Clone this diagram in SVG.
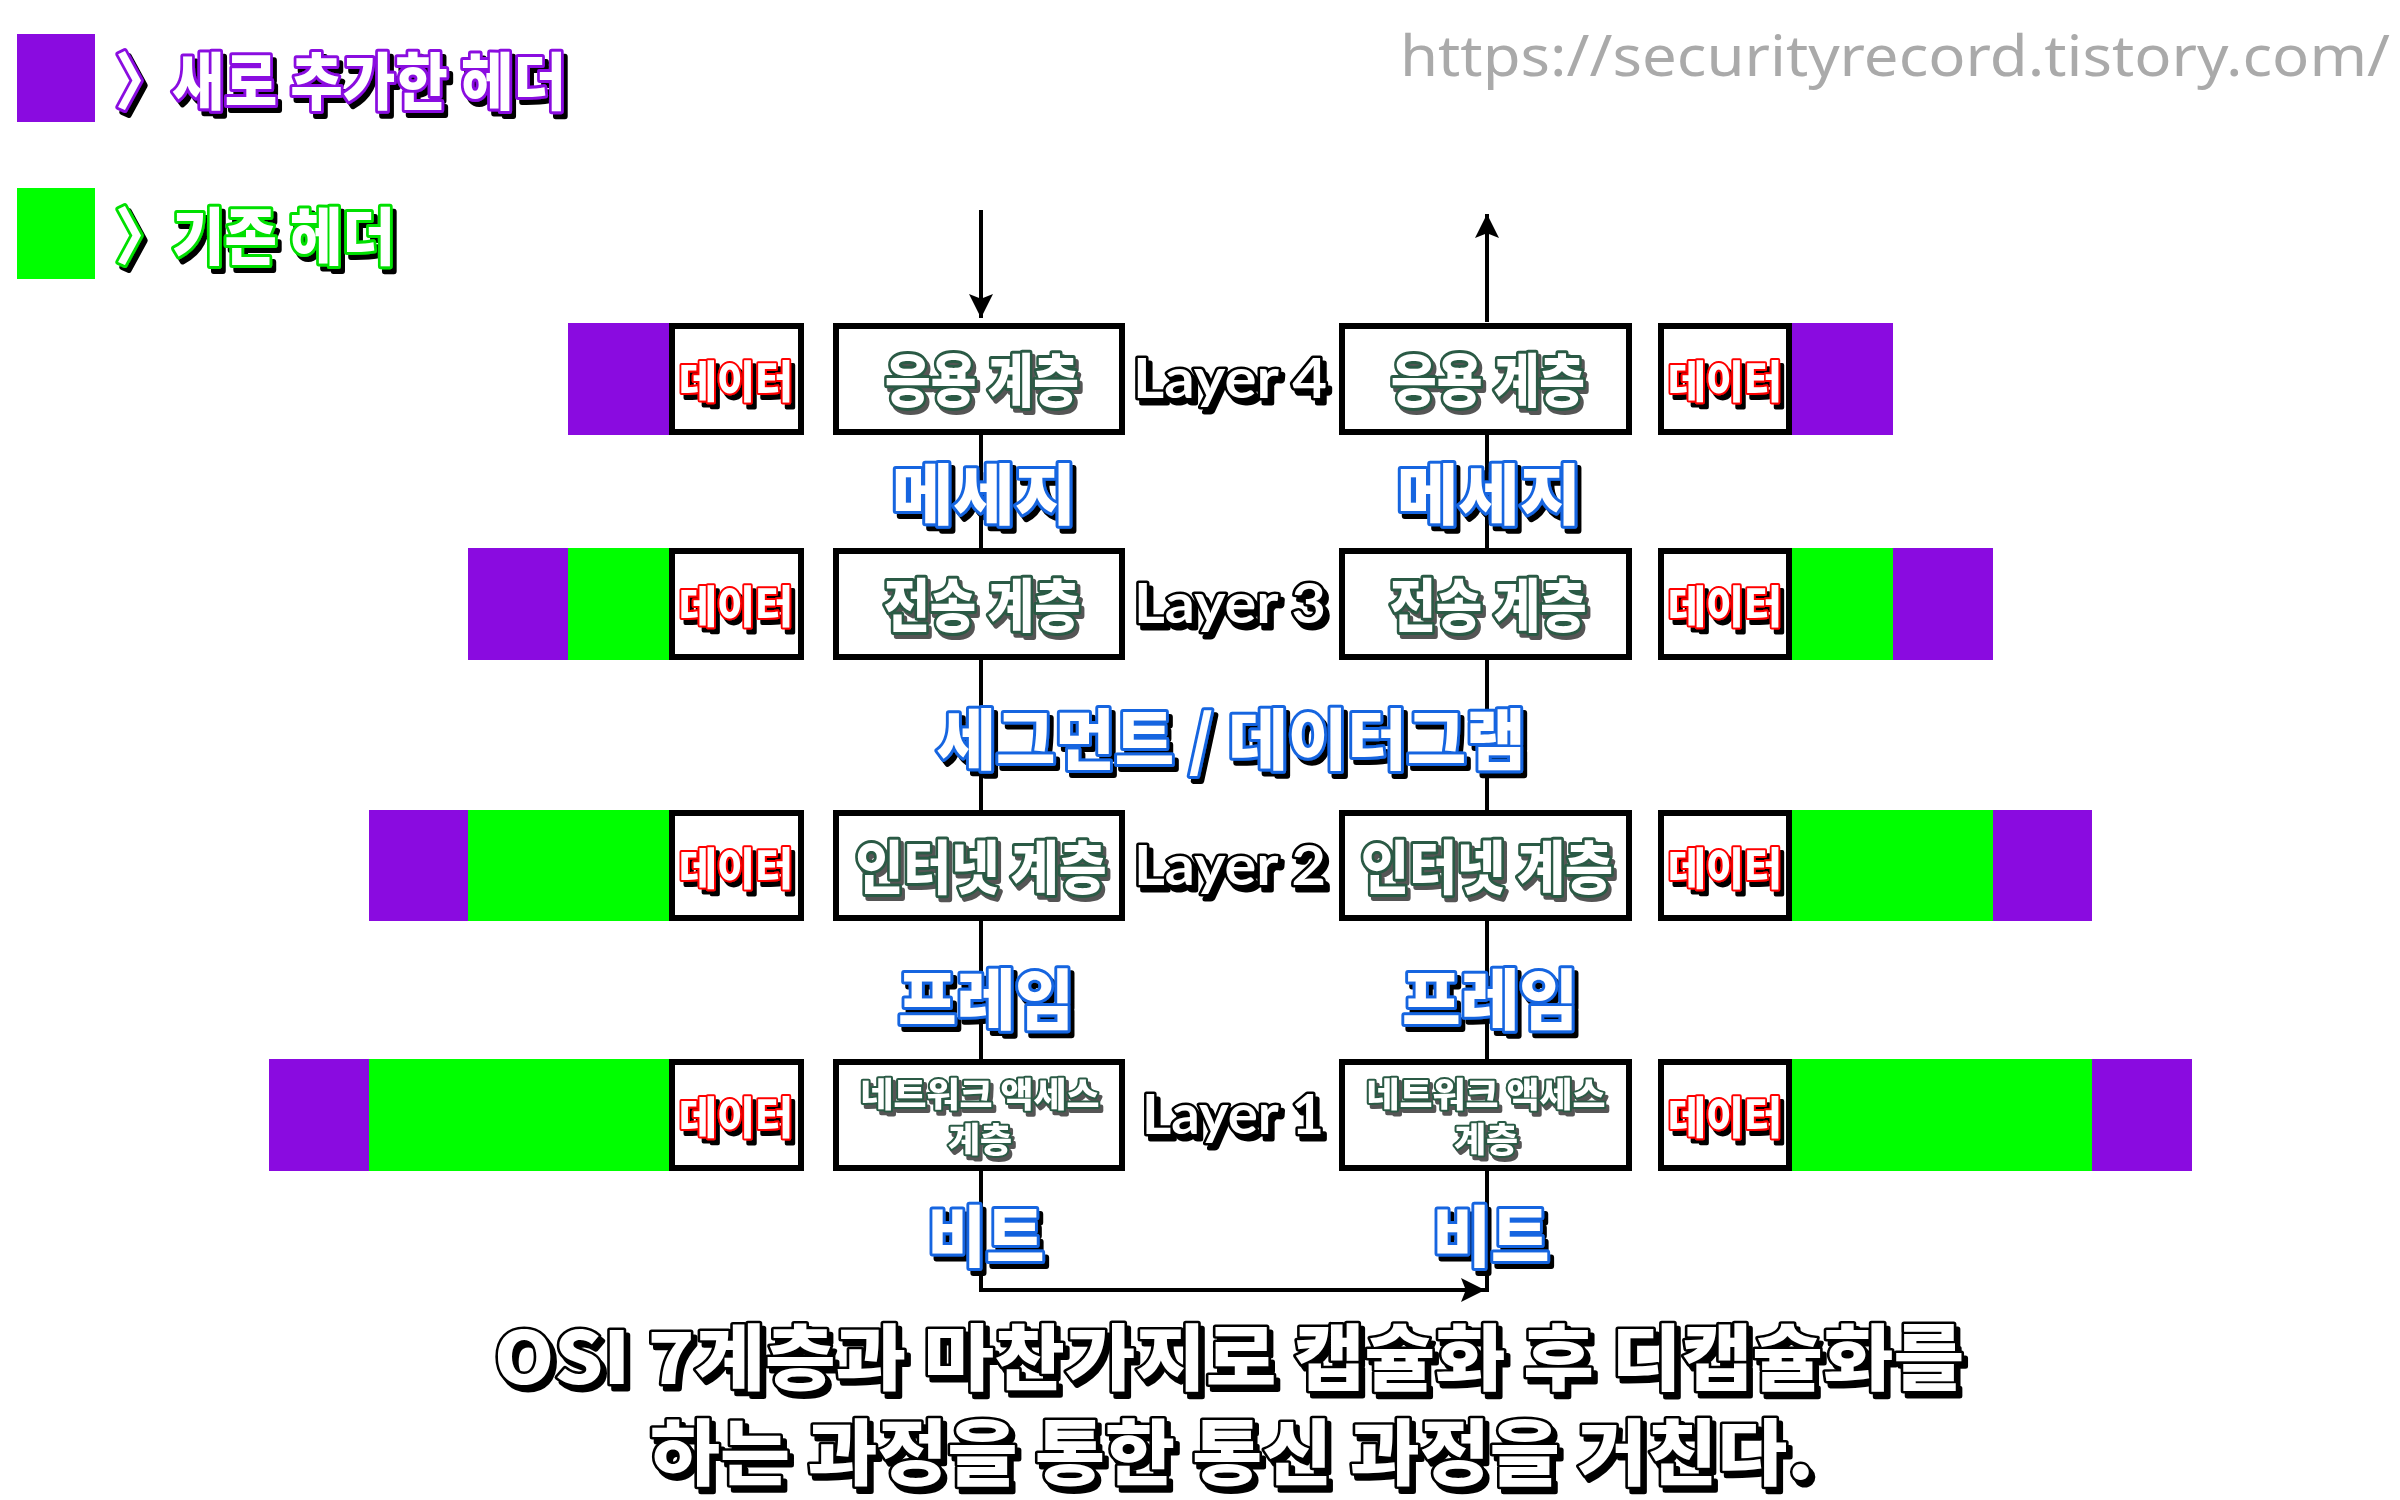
<svg xmlns="http://www.w3.org/2000/svg" width="2400" height="1500" viewBox="0 0 2400 1500">
<style>
.kr{font-family:"Noto Sans CJK KR","Noto Sans",sans-serif;font-weight:900;paint-order:stroke fill;stroke-linejoin:round;fill:#fff;filter:url(#sh);dominant-baseline:central;text-anchor:middle}
.lat{font-family:"Lato","Noto Sans",sans-serif;font-weight:700;paint-order:stroke fill;stroke-linejoin:round;fill:#fff;stroke:#000;stroke-width:5;filter:url(#sh);dominant-baseline:central;text-anchor:middle}
.lay{font-size:58px;stroke:#2a5a44;stroke-width:6;filter:url(#shg)}
.lay4{font-size:34px;stroke:#2a5a44;stroke-width:4;filter:url(#shg)}
.dat{font-size:44px;stroke:#ff0000;stroke-width:4}
.blu{font-size:66px;stroke:#1565e0;stroke-width:6}
.bot{font-size:72px;stroke:#000;stroke-width:5}
.box{fill:#fff;stroke:#000;stroke-width:6}
.pu{fill:#8a0be0}
.gr{fill:#00ff00}
.ln{stroke:#000;stroke-width:4;fill:none}
</style>
<defs>
<filter id="sh" x="-10%" y="-20%" width="130%" height="150%"><feDropShadow dx="4" dy="5" stdDeviation="0" flood-color="#000"/></filter>
<filter id="shg" x="-10%" y="-20%" width="130%" height="150%"><feDropShadow dx="3" dy="4" stdDeviation="0" flood-color="#555"/></filter>
<marker id="ah" viewBox="0 0 10 10" refX="10" refY="5" markerWidth="6" markerHeight="7" markerUnits="strokeWidth" orient="auto"><path d="M0,0 L10,5 L0,10 L2,5 z" fill="#000"/></marker>
</defs>
<rect width="2400" height="1500" fill="#fff"/>

<g id="legend">
<rect class="pu" x="17" y="34" width="78" height="88"/>
<text class="kr" x="115" y="78" font-size="62" stroke="#8a0be0" stroke-width="6" style="text-anchor:start" textLength="451" lengthAdjust="spacingAndGlyphs">〉새로 추가한 헤더</text>
<rect class="gr" x="17" y="188" width="78" height="91"/>
<text class="kr" x="115" y="233" font-size="62" stroke="#00e000" stroke-width="6" style="text-anchor:start" textLength="280" lengthAdjust="spacingAndGlyphs">〉기존 헤더</text>
</g>
<text x="1400" y="76" font-family="Noto Sans, sans-serif" font-size="56" fill="#aaaaaa" textLength="990" lengthAdjust="spacingAndGlyphs">https://securityrecord.tistory.com/</text>

<g id="connectors">
<line class="ln" x1="981" y1="210" x2="981" y2="318" marker-end="url(#ah)"/>
<line class="ln" x1="1487" y1="322" x2="1487" y2="214" marker-end="url(#ah)"/>
<line class="ln" x1="981" y1="435" x2="981" y2="1292"/>
<line class="ln" x1="1487" y1="435" x2="1487" y2="1292"/>
<line class="ln" x1="981" y1="1290" x2="1485" y2="1290" stroke-width="5" marker-end="url(#ah)"/>
</g>

<g id="bands">
<rect class="pu" x="568" y="323" width="101" height="112"/>
<rect class="pu" x="468" y="548" width="100" height="112"/>
<rect class="gr" x="568" y="548" width="101" height="112"/>
<rect class="pu" x="369" y="810" width="99" height="111"/>
<rect class="gr" x="468" y="810" width="201" height="111"/>
<rect class="pu" x="269" y="1059" width="100" height="112"/>
<rect class="gr" x="369" y="1059" width="300" height="112"/>
<rect class="pu" x="1792" y="323" width="101" height="112"/>
<rect class="gr" x="1792" y="548" width="101" height="112"/>
<rect class="pu" x="1893" y="548" width="100" height="112"/>
<rect class="gr" x="1792" y="810" width="201" height="111"/>
<rect class="pu" x="1993" y="810" width="99" height="111"/>
<rect class="gr" x="1792" y="1059" width="300" height="112"/>
<rect class="pu" x="2092" y="1059" width="100" height="112"/>
</g>

<g id="data-l1"><rect class="box" x="672" y="326" width="129" height="106"/><text class="kr dat" x="736" y="379" textLength="114" lengthAdjust="spacingAndGlyphs">데이터</text></g>
<g id="data-l2"><rect class="box" x="672" y="551" width="129" height="106"/><text class="kr dat" x="736" y="604" textLength="114" lengthAdjust="spacingAndGlyphs">데이터</text></g>
<g id="data-l3"><rect class="box" x="672" y="813" width="129" height="105"/><text class="kr dat" x="736" y="866" textLength="114" lengthAdjust="spacingAndGlyphs">데이터</text></g>
<g id="data-l4"><rect class="box" x="672" y="1062" width="129" height="106"/><text class="kr dat" x="736" y="1115" textLength="114" lengthAdjust="spacingAndGlyphs">데이터</text></g>
<g id="data-r1"><rect class="box" x="1661" y="326" width="128" height="106"/><text class="kr dat" x="1725" y="379" textLength="114" lengthAdjust="spacingAndGlyphs">데이터</text></g>
<g id="data-r2"><rect class="box" x="1661" y="551" width="128" height="106"/><text class="kr dat" x="1725" y="604" textLength="114" lengthAdjust="spacingAndGlyphs">데이터</text></g>
<g id="data-r3"><rect class="box" x="1661" y="813" width="128" height="105"/><text class="kr dat" x="1725" y="866" textLength="114" lengthAdjust="spacingAndGlyphs">데이터</text></g>
<g id="data-r4"><rect class="box" x="1661" y="1062" width="128" height="106"/><text class="kr dat" x="1725" y="1115" textLength="114" lengthAdjust="spacingAndGlyphs">데이터</text></g>

<g id="app-l"><rect class="box" x="836" y="326" width="286" height="106"/><text class="kr lay" x="982" y="377" textLength="194" lengthAdjust="spacingAndGlyphs">응용 계층</text></g>
<g id="app-r"><rect class="box" x="1342" y="326" width="287" height="106"/><text class="kr lay" x="1488" y="377" textLength="194" lengthAdjust="spacingAndGlyphs">응용 계층</text></g>
<g id="trans-l"><rect class="box" x="836" y="551" width="286" height="106"/><text class="kr lay" x="982" y="602" textLength="197" lengthAdjust="spacingAndGlyphs">전송 계층</text></g>
<g id="trans-r"><rect class="box" x="1342" y="551" width="287" height="106"/><text class="kr lay" x="1488" y="602" textLength="197" lengthAdjust="spacingAndGlyphs">전송 계층</text></g>
<g id="inet-l"><rect class="box" x="836" y="813" width="286" height="105"/><text class="kr lay" x="981" y="864" textLength="251" lengthAdjust="spacingAndGlyphs">인터넷 계층</text></g>
<g id="inet-r"><rect class="box" x="1342" y="813" width="287" height="105"/><text class="kr lay" x="1487" y="864" textLength="252" lengthAdjust="spacingAndGlyphs">인터넷 계층</text></g>
<g id="net-l"><rect class="box" x="836" y="1062" width="286" height="106"/><text class="kr lay4" x="980" y="1092" textLength="239" lengthAdjust="spacingAndGlyphs">네트워크 액세스</text><text class="kr lay4" x="980" y="1137" textLength="64" lengthAdjust="spacingAndGlyphs">계층</text></g>
<g id="net-r"><rect class="box" x="1342" y="1062" width="287" height="106"/><text class="kr lay4" x="1486" y="1092" textLength="239" lengthAdjust="spacingAndGlyphs">네트워크 액세스</text><text class="kr lay4" x="1486" y="1137" textLength="64" lengthAdjust="spacingAndGlyphs">계층</text></g>

<g id="layer-labels">
<text class="lat" x="1230" y="376" font-size="56" textLength="194" lengthAdjust="spacingAndGlyphs">Layer 4</text>
<text class="lat" x="1230" y="601" font-size="56" textLength="192" lengthAdjust="spacingAndGlyphs">Layer 3</text>
<text class="lat" x="1230" y="863" font-size="56" textLength="192" lengthAdjust="spacingAndGlyphs">Layer 2</text>
<text class="lat" x="1233" y="1112" font-size="56" textLength="182" lengthAdjust="spacingAndGlyphs">Layer 1</text>
</g>

<g id="pdu-labels">
<text class="kr blu" x="984" y="490" textLength="184" lengthAdjust="spacingAndGlyphs">메세지</text>
<text class="kr blu" x="1489" y="490" textLength="184" lengthAdjust="spacingAndGlyphs">메세지</text>
<text class="kr blu" x="1231" y="735" textLength="589" lengthAdjust="spacingAndGlyphs">세그먼트 / 데이터그램</text>
<text class="kr blu" x="986" y="995" textLength="176" lengthAdjust="spacingAndGlyphs">프레임</text>
<text class="kr blu" x="1490" y="995" textLength="176" lengthAdjust="spacingAndGlyphs">프레임</text>
<text class="kr blu" x="986" y="1232" textLength="117" lengthAdjust="spacingAndGlyphs">비트</text>
<text class="kr blu" x="1491" y="1232" textLength="117" lengthAdjust="spacingAndGlyphs">비트</text>
</g>

<g id="caption">
<text class="kr bot" x="1229" y="1352" textLength="1470" lengthAdjust="spacingAndGlyphs">OSI 7계층과 마찬가지로 캡슐화 후 디캡슐화를</text>
<text class="kr bot" x="1232" y="1447" textLength="1164" lengthAdjust="spacingAndGlyphs">하는 과정을 통한 통신 과정을 거친다.</text>
</g>
</svg>
